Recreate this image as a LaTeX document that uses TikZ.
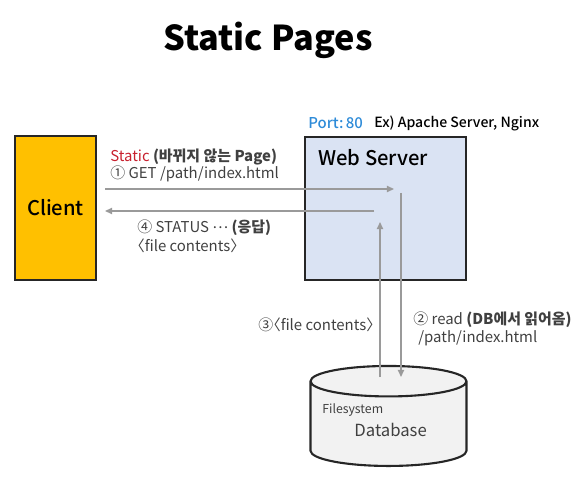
\documentclass[tikz,border=0pt]{standalone}
\usepackage{fontspec}
\setmainfont{Noto Sans CJK KR}
\newfontfamily\medfont{Noto Sans CJK KR Medium}
\usetikzlibrary{arrows.meta,shapes.geometric}

\definecolor{clientfill}{HTML}{FFC000}
\definecolor{serverfill}{HTML}{DAE3F3}
\definecolor{dbfill}{HTML}{F2F2F2}
\definecolor{portblue}{HTML}{2E8BD8}
\definecolor{staticred}{HTML}{C8202E}
\definecolor{arrgray}{HTML}{9A9A9A}

\begin{document}
\begin{tikzpicture}[x=0.02cm,y=-0.02cm,
    box/.style={draw=black!85,line width=1.2pt,inner sep=0pt},
    lbl/.style={anchor=west,inner sep=0pt,font=\fontsize{8.5}{10}\selectfont,text=black!75},
    arr/.style={draw=arrgray,line width=0.8pt,-{Triangle[length=4pt,width=3.5pt]}}]
    \useasboundingbox (0,0) rectangle (582,483);
    % title
    \node[font=\bfseries\fontsize{19.5}{23}\selectfont] (title) at (268,40) {Static Pages};
    % boxes
    \node[box,fill=clientfill,minimum width=1.62cm,minimum height=2.88cm,
          font=\medfont\fontsize{11.5}{13}\selectfont] (client) at (55.5,208) {Client};
    \node[box,fill=serverfill,minimum width=3.22cm,minimum height=2.86cm] (server) at (385.5,208.5) {};
    \node[anchor=west,inner sep=0pt,font=\medfont\fontsize{11.5}{13}\selectfont] (servername) at (318,158) {Web Server};
    \node[cylinder,shape border rotate=90,aspect=2.6,draw=black!85,line width=1.2pt,fill=dbfill,
          minimum width=3.12cm,minimum height=2.0cm] (db) at (388.5,427) {};
    \node[lbl,font=\fontsize{7}{8}\selectfont] (fs) at (322,410) {Filesystem};
    \node[lbl,font=\fontsize{9.5}{11}\selectfont] (dbname) at (354,430) {Database};
    % port
    \node[anchor=west,inner sep=0pt,text=portblue,font=\medfont\fontsize{8.5}{10}\selectfont] (port) at (308,123) {Port:\,80};
    \node[anchor=west,inner sep=0pt,font=\medfont\fontsize{8}{9}\selectfont] (examples) at (374,123) {Ex) Apache Server, Nginx};
    % arrow ends
    \coordinate (getstart) at (105,189);
    \coordinate (getend) at (394,189);
    \coordinate (replystart) at (374,211);
    \coordinate (replyend) at (105,211);
    \coordinate (readstart) at (401,193);
    \coordinate (readend) at (401,377);
    \coordinate (filestart) at (380,377);
    \coordinate (fileend) at (380,222);
    \draw[arr] (getstart) -- (getend);
    \draw[arr] (replystart) -- (replyend);
    \draw[arr] (readstart) -- (readend);
    \draw[arr] (filestart) -- (fileend);
    % labels
    \node[lbl] (static) at (110,157) {\textcolor{staticred}{Static} \textbf{(바뀌지 않는 Page)}};
    \node[lbl] (get) at (110,174) {① GET /path/index.html};
    \node[lbl] (status) at (137,228) {④ STATUS \raisebox{0.3em}{…} \textbf{(응답)}};
    \node[lbl] (contents) at (137,246) {\kern-0.5em〈file contents〉};
    \node[lbl] (dbfile) at (258,325) {③\kern-0.5em〈file contents〉};
    \node[lbl] (read) at (413,320) {② read \textbf{(DB에서 읽어옴)}};
    \node[lbl] (readpath) at (418,338) {/path/index.html};
\end{tikzpicture}
\end{document}
